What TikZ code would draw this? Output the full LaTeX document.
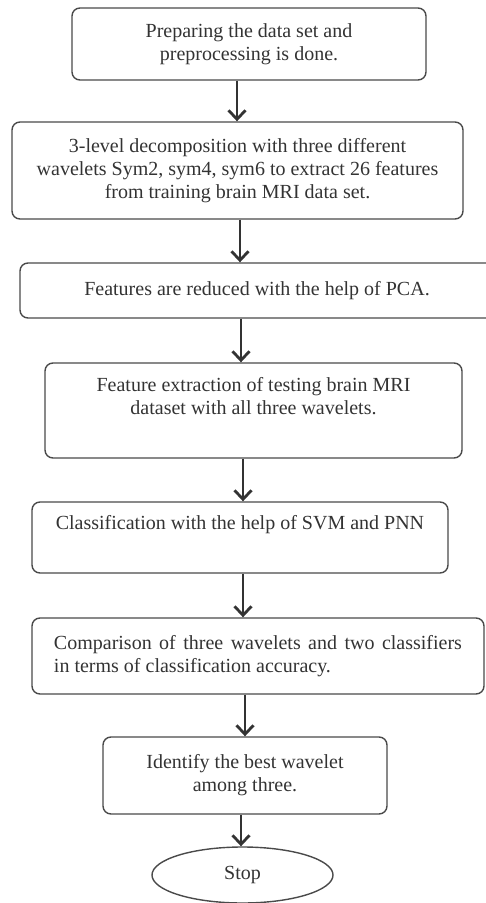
\documentclass[tikz,border=0pt]{standalone}
\usepackage{fontspec}
\setmainfont{Liberation Serif}
\usepackage{tikz}
\usetikzlibrary{positioning}
\usetikzlibrary{arrows.meta}
\usetikzlibrary{shapes.geometric}
\definecolor{inkgray}{HTML}{333333}
\definecolor{edgegray}{HTML}{4A4A4A}
\tikzstyle{process}=[draw=edgegray, line width=1.4bp, rounded corners=8bp, inner sep=0pt, align=center, text=inkgray, font=\fontsize{20bp}{23bp}\selectfont]
\tikzstyle{stopnode}=[ellipse, draw=edgegray, line width=1.4bp, inner sep=0pt, text=inkgray, font=\fontsize{20bp}{23bp}\selectfont]
\tikzstyle{arrow}=[draw=inkgray, line width=2.8bp, -{Straight Barb[length=9bp,width=17bp]}]
\begin{document}
\begin{tikzpicture}[x=1bp, y=-1bp]
      \useasboundingbox (0,0) rectangle (486,903);

      \node[process, minimum width=354bp, minimum height=72bp] (prep) at (249,44) {Preparing the data set and\\preprocessing is done.};
      \node[process, minimum width=451bp, minimum height=97bp] (decomp) at (237.5,170.5) {3-level decomposition with three different\\wavelets Sym2, sym4, sym6 to extract 26 features\\from training brain MRI data set.};
      \node[process, minimum width=474bp, minimum height=55bp] (pca) at (257,290.5) {Features are reduced with the help of PCA.};
      \node[process, minimum width=417bp, minimum height=95bp] (testing) at (253.5,410.5) {Feature extraction of testing brain MRI\\dataset with all three wavelets.\\\strut};
      \node[process, minimum width=416bp, minimum height=71bp] (classify) at (240,537.5) {Classification with the help of SVM and PNN\\\strut};
      \node[process, minimum width=452bp, minimum height=76bp, align=justify, text width=408bp] (compare) at (258,656) {Comparison of three wavelets and two classifiers\linebreak in terms of classification accuracy.};
      \node[process, minimum width=284bp, minimum height=77bp] (best) at (245,775.5) {Identify the best wavelet\\among three.};
      \node[stopnode, minimum width=181bp, minimum height=56bp] (stop) at (242.5,875) {Stop};

      \draw[arrow] (prep.south -| 237,0) -- (decomp.north -| 237,0);
      \draw[arrow] (decomp.south -| 240,0) -- (pca.north -| 240,0);
      \draw[arrow] (pca.south -| 241,0) -- (testing.north -| 241,0);
      \draw[arrow] (testing.south -| 243,0) -- (classify.north -| 243,0);
      \draw[arrow] (classify.south -| 243,0) -- (compare.north -| 243,0);
      \draw[arrow] (compare.south -| 245,0) -- (best.north -| 245,0);
      \draw[arrow] (best.south -| 241,0) -- (stop.north -| 241,0);

    \end{tikzpicture}
\end{document}
